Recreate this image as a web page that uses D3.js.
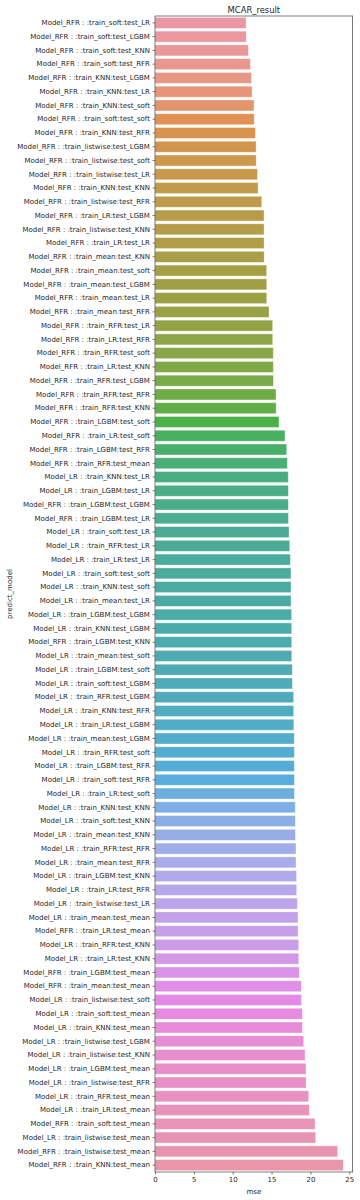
<!DOCTYPE html>
<html>
<head>
<meta charset="utf-8">
<script src="https://cdn.jsdelivr.net/npm/d3@7/dist/d3.min.js"></script>
<style>
html,body{margin:0;padding:0;background:#fff;}
svg{display:block;font-family:"DejaVu Sans",sans-serif;}
</style>
</head>
<body>
<svg id="chart" width="360" height="1200"></svg>
<script>
const title = "MCAR_result";
const xLabel = "mse";
const yLabel = "predict_model";
const xTicks = [0, 5, 10, 15, 20, 25];

const categories = [
"Model_RFR : :train_soft:test_LR","Model_RFR : :train_soft:test_LGBM","Model_RFR : :train_soft:test_KNN","Model_RFR : :train_soft:test_RFR",
"Model_RFR : :train_KNN:test_LGBM","Model_RFR : :train_KNN:test_LR","Model_RFR : :train_KNN:test_soft","Model_RFR : :train_soft:test_soft",
"Model_RFR : :train_KNN:test_RFR","Model_RFR : :train_listwise:test_LGBM","Model_RFR : :train_listwise:test_soft","Model_RFR : :train_listwise:test_LR",
"Model_RFR : :train_KNN:test_KNN","Model_RFR : :train_listwise:test_RFR","Model_RFR : :train_LR:test_LGBM","Model_RFR : :train_listwise:test_KNN",
"Model_RFR : :train_LR:test_LR","Model_RFR : :train_mean:test_KNN","Model_RFR : :train_mean:test_soft","Model_RFR : :train_mean:test_LGBM",
"Model_RFR : :train_mean:test_LR","Model_RFR : :train_mean:test_RFR","Model_RFR : :train_RFR:test_LR","Model_RFR : :train_LR:test_RFR",
"Model_RFR : :train_RFR:test_soft","Model_RFR : :train_LR:test_KNN","Model_RFR : :train_RFR:test_LGBM","Model_RFR : :train_RFR:test_RFR",
"Model_RFR : :train_RFR:test_KNN","Model_RFR : :train_LGBM:test_soft","Model_RFR : :train_LR:test_soft","Model_RFR : :train_LGBM:test_RFR",
"Model_RFR : :train_RFR:test_mean","Model_LR : :train_KNN:test_LR","Model_LR : :train_LGBM:test_LR","Model_RFR : :train_LGBM:test_LGBM",
"Model_RFR : :train_LGBM:test_LR","Model_LR : :train_soft:test_LR","Model_LR : :train_RFR:test_LR","Model_LR : :train_LR:test_LR",
"Model_LR : :train_soft:test_soft","Model_LR : :train_KNN:test_soft","Model_LR : :train_mean:test_LR","Model_LR : :train_LGBM:test_LGBM",
"Model_LR : :train_KNN:test_LGBM","Model_RFR : :train_LGBM:test_KNN","Model_LR : :train_mean:test_soft","Model_LR : :train_LGBM:test_soft",
"Model_LR : :train_soft:test_LGBM","Model_LR : :train_RFR:test_LGBM","Model_LR : :train_KNN:test_RFR","Model_LR : :train_LR:test_LGBM",
"Model_LR : :train_mean:test_LGBM","Model_LR : :train_RFR:test_soft","Model_LR : :train_LGBM:test_RFR","Model_LR : :train_soft:test_RFR",
"Model_LR : :train_LR:test_soft","Model_LR : :train_KNN:test_KNN","Model_LR : :train_soft:test_KNN","Model_LR : :train_mean:test_KNN",
"Model_LR : :train_RFR:test_RFR","Model_LR : :train_mean:test_RFR","Model_LR : :train_LGBM:test_KNN","Model_LR : :train_LR:test_RFR",
"Model_LR : :train_listwise:test_LR","Model_LR : :train_mean:test_mean","Model_RFR : :train_LR:test_mean","Model_LR : :train_RFR:test_KNN",
"Model_LR : :train_LR:test_KNN","Model_RFR : :train_LGBM:test_mean","Model_RFR : :train_mean:test_mean","Model_LR : :train_listwise:test_soft",
"Model_LR : :train_soft:test_mean","Model_LR : :train_KNN:test_mean","Model_LR : :train_listwise:test_LGBM","Model_LR : :train_listwise:test_KNN",
"Model_LR : :train_LGBM:test_mean","Model_LR : :train_listwise:test_RFR","Model_LR : :train_RFR:test_mean","Model_LR : :train_LR:test_mean",
"Model_RFR : :train_soft:test_mean","Model_LR : :train_listwise:test_mean","Model_RFR : :train_listwise:test_mean","Model_RFR : :train_KNN:test_mean"
];

const mse = [
11.72,11.74,12.02,12.28,12.41,12.49,12.75,12.76,12.92,13.01,13.02,13.18,
13.27,13.74,14.03,14.04,14.04,14.05,14.37,14.38,14.38,14.68,15.14,15.15,
15.22,15.23,15.24,15.58,15.59,15.96,16.73,16.95,17.03,17.15,17.16,17.16,
17.17,17.25,17.34,17.42,17.50,17.51,17.51,17.58,17.59,17.59,17.60,17.67,
17.68,17.84,17.85,17.86,17.92,17.93,17.93,17.94,17.94,18.05,18.06,18.07,
18.14,18.15,18.22,18.23,18.32,18.40,18.41,18.49,18.50,18.58,18.83,18.84,
18.96,18.97,19.14,19.31,19.43,19.44,19.78,19.86,20.59,20.68,23.51,24.23
];

// ---- seaborn husl palette (h=.01, s=.9, l=.7) desaturated 0.75 ----
const Mx = [[3.2406,-1.5372,-0.4986],[-0.9689,1.8758,0.0415],[0.0557,-0.2040,1.0570]];
function maxChroma(L,H){
  const hr=H*Math.PI/180, sinH=Math.sin(hr), cosH=Math.cos(hr);
  const sub1=Math.pow(L+16,3)/1560896; const sub2=sub1>0.008856?sub1:L/903.3;
  let res=Infinity;
  for(const [m1,m2,m3] of Mx){
    const top=(0.99915*m1+1.05122*m2+1.14460*m3)*sub2;
    const rb=0.86330*m3-0.17266*m2, lb=0.12949*m3-0.38848*m1;
    const bottom=(rb*sinH+lb*cosH)*sub2;
    for(const t of [0,1]){
      const C=L*(top-1.05122*t)/(bottom+0.17266*sinH*t);
      if(C>0&&C<res)res=C;
    }
  }
  return res;
}
function huslToRgb(H,S,L){
  const C=maxChroma(L,H)/100*S, hr=H*Math.PI/180;
  const U=Math.cos(hr)*C, V=Math.sin(hr)*C;
  const t=(L+16)/116; const Y=Math.pow(t,3)>0.008856?Math.pow(t,3):(116*t-16)/903.3;
  const vU=U/(13*L)+0.19784, vV=V/(13*L)+0.46834;
  const X=-(9*Y*vU)/((vU-4)*vV-vU*vV);
  const Z=(9*Y-15*vV*Y-vV*X)/(3*vV);
  return Mx.map(r=>{let c=r[0]*X+r[1]*Y+r[2]*Z;
    c=c<=0.0031308?12.92*c:1.055*Math.pow(c,1/2.4)-0.055;
    return Math.min(1,Math.max(0,c));});
}
function palette(n){
  const out=[];
  for(let i=0;i<n;i++){
    const h=((i/n)+0.01)%1*359;
    const [r,g,b]=huslToRgb(h,0.9*99,0.7*99);
    const c=d3.hsl(d3.rgb(r*255,g*255,b*255));
    c.s*=0.75;
    out.push(c.formatHex());
  }
  return out;
}
const colors = palette(categories.length);

// ---- layout ----
const svg=d3.select("#chart");
const m={left:155,right:352.7,top:16,bottom:1172};
const x=d3.scaleLinear().domain([0,d3.max(mse)*1.05]).range([m.left,m.right]);
const y=d3.scaleBand().domain(categories).range([m.top,m.bottom]).paddingInner(0.2).paddingOuter(0.1);

svg.append("g").selectAll("rect").data(categories).join("rect")
  .attr("x",x(0)).attr("y",d=>y(d))
  .attr("width",(d,i)=>x(mse[i])-x(0)).attr("height",y.bandwidth())
  .attr("fill",(d,i)=>colors[i])
  .attr("stroke","#ffffff").attr("stroke-opacity",0.45).attr("stroke-width",0.8);

const yAx=svg.append("g").attr("transform",`translate(${m.left},0)`)
  .call(d3.axisLeft(y).tickSize(2.5).tickPadding(2.6));
yAx.select(".domain").remove();
yAx.selectAll("text").attr("font-size",7).attr("fill","#262626").attr("font-family","DejaVu Sans");
yAx.selectAll("line").attr("stroke","#262626").attr("stroke-width",0.6);

const xAx=svg.append("g").attr("transform",`translate(0,${m.bottom})`)
  .call(d3.axisBottom(x).tickValues(xTicks).tickFormat(d3.format("d")).tickSize(2.5).tickPadding(2.5));
xAx.select(".domain").remove();
xAx.selectAll("text").attr("font-size",7).attr("fill","#262626").attr("font-family","DejaVu Sans");
xAx.selectAll("line").attr("stroke","#262626").attr("stroke-width",0.6);

// frame
svg.append("rect").attr("x",m.left).attr("y",m.top)
  .attr("width",m.right-m.left).attr("height",m.bottom-m.top)
  .attr("fill","none").attr("stroke","#262626").attr("stroke-width",0.6);

svg.append("text").attr("x",(m.left+m.right)/2).attr("y",12.5)
  .attr("text-anchor","middle").attr("font-size",8.4).attr("fill","#262626").text(title);
svg.append("text").attr("x",(m.left+m.right)/2).attr("y",1194)
  .attr("text-anchor","middle").attr("font-size",7).attr("fill","#262626").text(xLabel);
svg.append("text").attr("transform",`translate(11.5,${(m.top+m.bottom)/2}) rotate(-90)`)
  .attr("text-anchor","middle").attr("font-size",7).attr("fill","#262626").text(yLabel);
</script>
</body>
</html>
